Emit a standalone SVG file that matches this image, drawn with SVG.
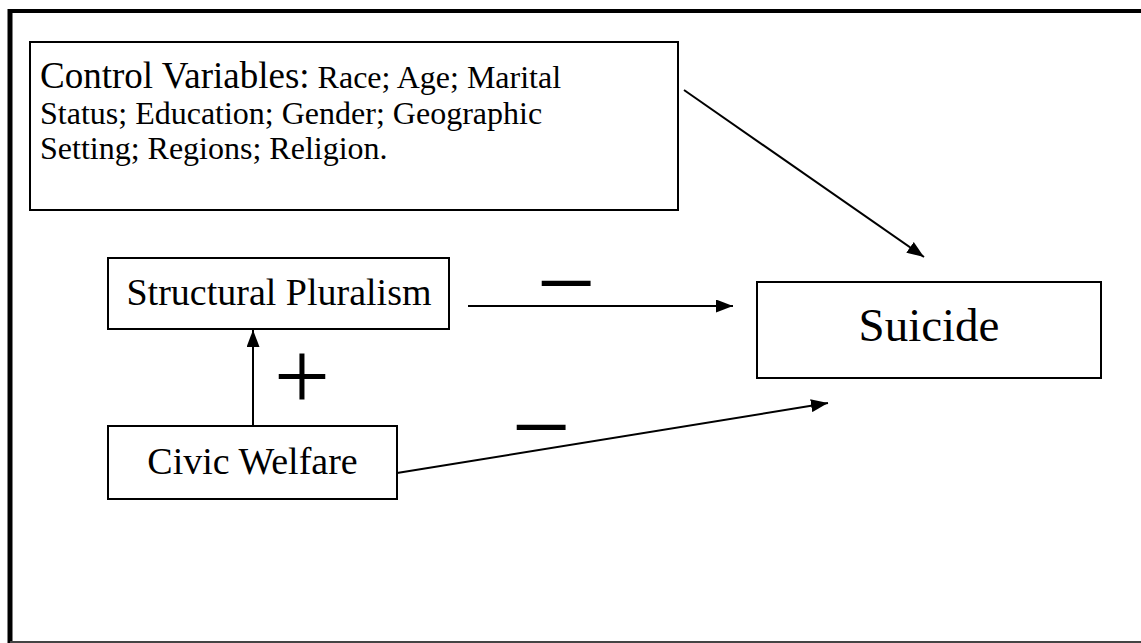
<svg xmlns="http://www.w3.org/2000/svg" width="1141" height="643" viewBox="0 0 1141 643">
<defs>
<style>
.box{fill:#fff;stroke:#000;stroke-width:2}
.t{font-family:"Liberation Serif","Times New Roman",serif;fill:#000}
.edge{stroke:#000;stroke-width:2;fill:none}
</style>
<marker id="ah" viewBox="0 0 17 13" refX="17" refY="6.5" markerWidth="17" markerHeight="13" markerUnits="userSpaceOnUse" orient="auto">
<path d="M0,0 L17,6.5 L0,13 Z" fill="#000"/>
</marker>
</defs>
<rect width="1141" height="643" fill="#fff"/>
<g id="frame">
<line x1="8" y1="11" x2="1141" y2="11" stroke="#000" stroke-width="4"/>
<line x1="10" y1="9" x2="10" y2="643" stroke="#000" stroke-width="5"/>
<line x1="10" y1="642" x2="1141" y2="642" stroke="#444" stroke-width="2"/>
</g>
<g id="control">
<rect class="box" x="30" y="42" width="648" height="168"/>
<text class="t" x="40" y="88"><tspan font-size="37">Control Variables:</tspan><tspan font-size="32"> Race; Age; Marital</tspan></text>
<text class="t" x="40" y="124" font-size="32">Status; Education; Gender; Geographic</text>
<text class="t" x="40" y="159" font-size="32">Setting; Regions; Religion.</text>
</g>
<g id="structural">
<rect class="box" x="108" y="258" width="341" height="71"/>
<text class="t" x="279" y="305" font-size="38" text-anchor="middle">Structural Pluralism</text>
</g>
<g id="civic">
<rect class="box" x="108" y="426" width="289" height="73"/>
<text class="t" x="252.5" y="474" font-size="38" text-anchor="middle">Civic Welfare</text>
</g>
<g id="suicide">
<rect class="box" x="757" y="282" width="344" height="96"/>
<text class="t" x="929" y="341" font-size="47" text-anchor="middle">Suicide</text>
</g>
<g id="connectors">
<line class="edge" x1="468" y1="306" x2="733" y2="306" marker-end="url(#ah)"/>
<line class="edge" x1="253" y1="426" x2="253" y2="330" marker-end="url(#ah)"/>
<line class="edge" x1="397" y1="473" x2="828" y2="403" marker-end="url(#ah)"/>
<line class="edge" x1="684" y1="90" x2="924" y2="257" marker-end="url(#ah)"/>
<text class="t" x="566" y="318" font-size="105" text-anchor="middle">−</text>
<text class="t" x="302" y="410" font-size="100" text-anchor="middle">+</text>
<text class="t" x="541" y="462" font-size="105" text-anchor="middle">−</text>
</g>
</svg>
